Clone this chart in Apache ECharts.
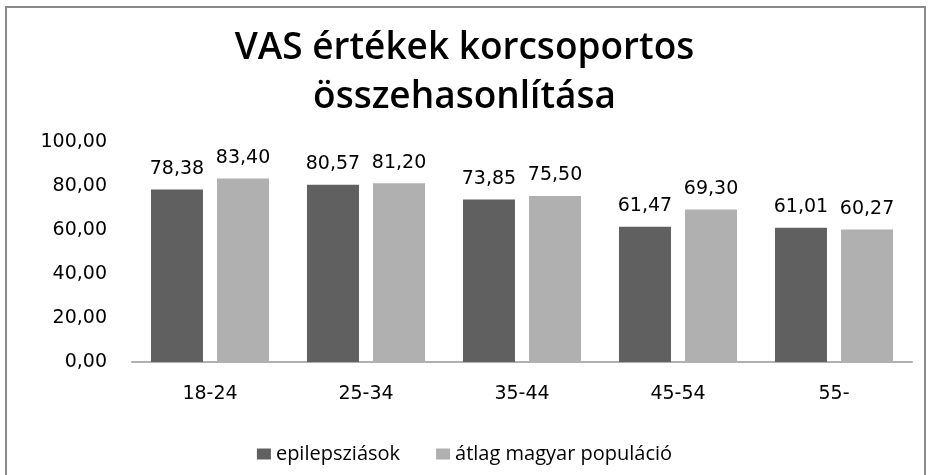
<!DOCTYPE html>
<html>
<head>
<meta charset="utf-8">
<script src="https://cdn.jsdelivr.net/npm/echarts@6/dist/echarts.min.js"></script>
<style>
html,body{margin:0;padding:0;background:#fff;}
#chart{width:929px;height:475px;}
</style>
</head>
<body>
<div id="chart"></div>
<script>
////--------------------------------------------------------------------////
const categories   = ['18-24', '25-34', '35-44', '45-54', '55-'];
const epilepszias  = [78.38, 80.57, 73.85, 61.47, 61.01];
const atlag        = [83.40, 81.20, 75.50, 69.30, 60.27];
const series_names = ['epilepsziások', 'átlag magyar populáció'];
////--------------------------------------------------------------------////
function comma(v){
    return v.toFixed(2).replace('.', ',');
}
////-------------------////
const chart = echarts.init(document.getElementById('chart'), null, {renderer: 'canvas'});
const label_style = {
    show: true,
    position: 'top',
    distance: 11,
    color: '#000',
    fontFamily: 'DejaVu Sans',
    fontSize: 19,
    formatter: p => comma(p.value)
};
chart.setOption({
    animation: false,
    graphic: [{
        type: 'rect',
        shape: {x: 6, y: 7, width: 919, height: 480},
        style: {fill: 'none', stroke: '#8a8a8a', lineWidth: 2}
    }],
    title: {
        text: 'VAS értékek korcsoportos\nösszehasonlítása',
        left: 'center',
        top: 19,
        textStyle: {fontFamily: 'Open Sans', fontSize: 37, fontWeight: 600, color: '#000', lineHeight: 49}
    },
    legend: {
        top: 439,
        left: 'center',
        itemWidth: 14,
        itemHeight: 11,
        itemGap: 36,
        icon: 'rect',
        textStyle: {fontFamily: 'Open Sans', fontSize: 20, color: '#000'},
        data: series_names
    },
    grid: {left: 132, right: 17, top: 142, bottom: 113},
    xAxis: {
        type: 'category',
        data: categories,
        axisLine: {lineStyle: {color: '#b0b0b0', width: 2}},
        axisTick: {show: false},
        axisLabel: {color: '#000', fontFamily: 'DejaVu Sans', fontSize: 19, margin: 23}
    },
    yAxis: {
        type: 'value',
        min: 0,
        max: 100,
        interval: 20,
        splitLine: {show: false},
        axisLine: {show: false},
        axisTick: {show: false},
        axisLabel: {color: '#000', fontFamily: 'DejaVu Sans', fontSize: 19, margin: 25, formatter: v => comma(v)}
    },
    series: [
        {name: series_names[0], type: 'bar', data: epilepszias, barWidth: 52, barGap: '27%',
         itemStyle: {color: '#606060'}, label: label_style},
        {name: series_names[1], type: 'bar', data: atlag, barWidth: 52,
         itemStyle: {color: '#b0b0b0'}, label: label_style}
    ]
});
</script>
</body>
</html>
